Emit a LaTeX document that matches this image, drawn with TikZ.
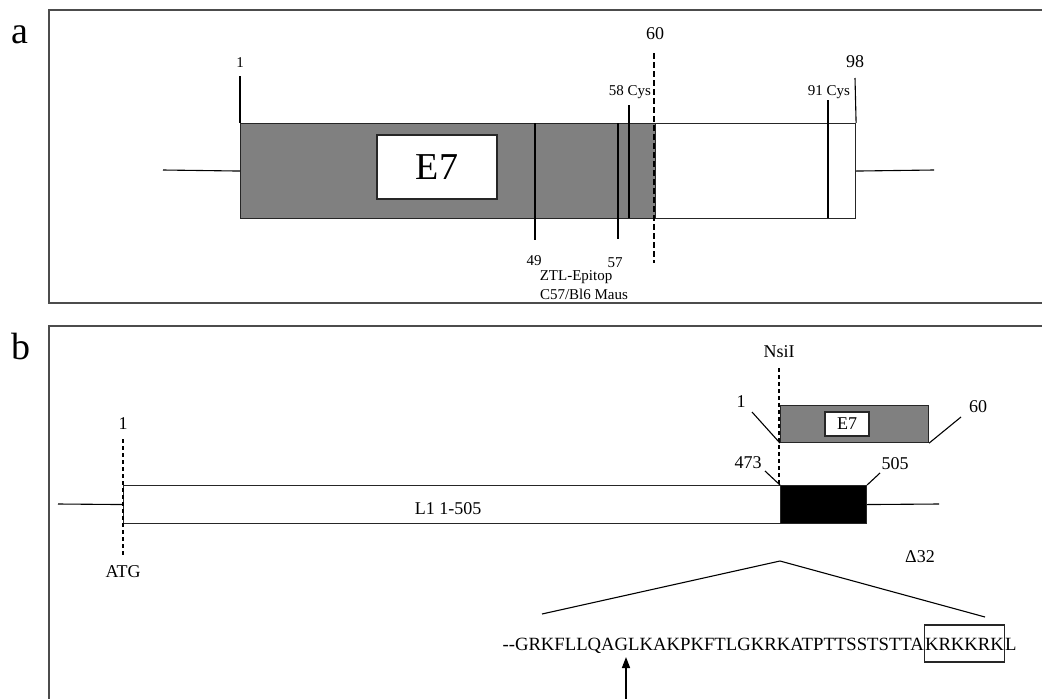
\documentclass[tikz,border=0pt]{standalone}
\usepackage{fontspec}
\setmainfont{Liberation Serif}
\newfontfamily\seqfont{Liberation Serif}
\usetikzlibrary{arrows.meta}
\newcommand{\myfs}[1]{\fontsize{#1pt}{#1pt}\selectfont}
\begin{document}
\begin{tikzpicture}[x=1pt,y=-1pt, line width=1.1pt,
  lbl/.style={inner sep=0pt, anchor=base, font=\myfs{15}},
  lblb/.style={inner sep=0pt, anchor=base, font=\myfs{18}},
  big/.style={inner sep=0pt, anchor=base, font=\myfs{38}},
  frame/.style={draw=black!70, line width=1.3pt},
  bx/.style={draw=black!85, line width=1.1pt, inner sep=0pt, anchor=north west},
  dasha/.style={line width=2.4pt, dash pattern=on 6pt off 3pt},
  dashb/.style={line width=1.5pt, dash pattern=on 4pt off 3pt},
  seq/.style={inner sep=0pt, anchor=base west, font=\seqfont\myfs{18.7}},
  ]
\clip (0,0) rectangle (1042,699);
\fill[white] (0,0) rectangle (1042,699);

% ---------- panel a ----------
\draw[frame] (49,10) rectangle (1070,303);
\node[big] (la) at (20,43) {a};

\node[bx, fill=gray, minimum width=415pt, minimum height=95pt] (grayA) at (240,123) {};
\node[bx, fill=white, minimum width=200pt, minimum height=95pt] (whiteA) at (655,123) {};
\node[draw=black!85, fill=white, minimum width=120pt, minimum height=64pt, inner sep=0pt, font=\myfs{38}] (e7a) at (437,167) {E7};

\coordinate (aL) at (163,170);
\coordinate (aR) at (934,170);
\draw (aL) -- (grayA.west);
\draw (whiteA.east) -- (aR);

\coordinate (t1) at (240,76);
\coordinate (t98) at (855,78);
\draw (t1) -- (grayA.north west);
\draw (t98) -- (whiteA.north east);

\draw (629,105) -- (629,218);
\draw (828,100) -- (828,218);
\draw (535,123) -- (535,240);
\draw (618,123) -- (618,239);
\draw[dasha] (654,53) -- (654,263);

\node[lbl] (n1a) at (240,67) {1};
\node[lblb] (n60a) at (655,39) {60};
\node[lblb] (n98a) at (855,67) {98};
\node[lbl] (c58) at (630,95) {58 Cys};
\node[lbl] (c91) at (829,95) {91 Cys};
\node[lbl] (n49) at (534,265) {49};
\node[lbl] (n57) at (615,267) {57};
\node[lbl] (ztl) at (576,280) {ZTL-Epitop};
\node[lbl] (c57) at (584,299) {C57/Bl6 Maus};

% ---------- panel b ----------
\draw[frame] (49,326) rectangle (1070,730);
\node[big] (lb) at (21,359) {b};

\node[bx, fill=white, minimum width=657pt, minimum height=38pt] (L1) at (123,485) {};
\node[bx, fill=black, minimum width=86pt, minimum height=38pt] (blk) at (780,485) {};
\coordinate (bL) at (58,504);
\coordinate (bR) at (939,504);
\draw (bL) -- (L1.west);
\draw (blk.east) -- (bR);
\node[lblb] (l1t) at (448,514) {L1 1-505};

\draw[dashb] (123,439) -- (123,557);
\node[lblb] (n1b) at (123,429) {1};
\node[lblb] (atg) at (123,577) {ATG};

\node[bx, fill=gray, minimum width=148pt, minimum height=37pt] (e7b) at (780,405) {};
\node[draw=black!85, fill=white, minimum width=44pt, minimum height=24pt, inner sep=0pt, font=\myfs{18}] (e7bt) at (847,424) {E7};

\draw[dashb] (779,368) -- (779,485);
\node[lblb] (nsi) at (779,357) {NsiI};

\coordinate (l1) at (752,412);
\coordinate (l60) at (961,417);
\coordinate (l473) at (765,471);
\coordinate (l505) at (880,473);
\draw (l1) -- (e7b.south west);
\draw (e7b.south east) -- (l60);
\draw (l473) -- (blk.north west);
\draw (blk.north east) -- (l505);
\node[lblb] (n1e) at (741,407) {1};
\node[lblb] (n60b) at (978,412) {60};
\node[lblb] (n473) at (748,468) {473};
\node[lblb] (n505) at (895,469) {505};
\node[lblb] (d32) at (920,562) {Δ32};

\coordinate (apex) at (780,561);
\coordinate (exL) at (542,614);
\coordinate (exR) at (985,617);
\draw (exL) -- (apex) -- (exR);

\node[seq] (s1) at (502,650) {--GRKFLLQAGLKAKPKFTLGKRKATPTTSSTSTTA};
\node[seq] (s2) at (s1.base east) {KRKKRK};
\node[seq] (s3) at (s2.base east) {L};
\coordinate (bt) at (0,625);
\coordinate (bb) at (0,662);
\draw[draw=black!85] (s2.west |- bt) rectangle (s2.east |- bb);

\coordinate (arF) at (626,699);
\coordinate (arT) at (626,657);
\draw[line width=1.5pt, -{Triangle[length=11pt,width=8pt]}] (arF) -- (arT);
\end{tikzpicture}
\end{document}
